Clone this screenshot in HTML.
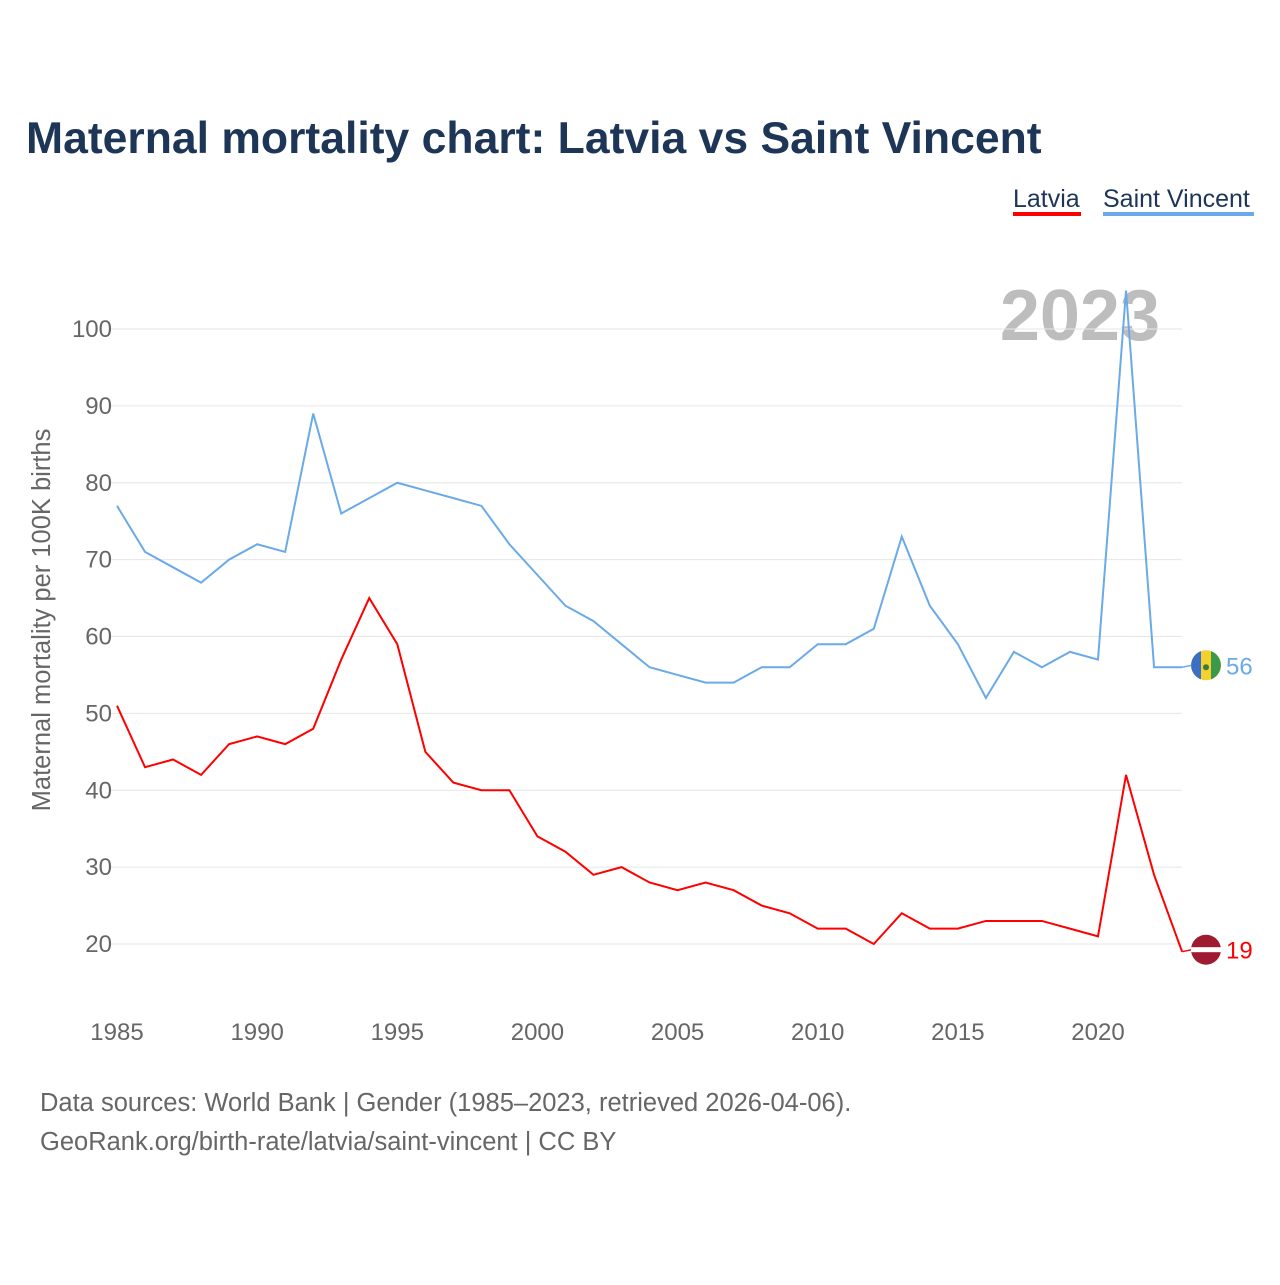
<!DOCTYPE html>
<html><head><meta charset="utf-8"><style>
body{margin:0;background:#fff;font-family:"Liberation Sans",sans-serif}
#wrap{position:relative;width:1280px;height:1280px}
</style></head><body>
<div id="wrap">
<svg id="chart" width="1280" height="1280">
<text x="26" y="153" font-size="44.5" font-weight="bold" fill="#1d3557">Maternal mortality chart: Latvia vs Saint Vincent</text>
<g><text x="1013" y="207" font-size="25" fill="#1d3557">Latvia</text><rect x="1013" y="212" width="68" height="4" fill="#ff0000"/></g>
<g><text x="1103" y="207" font-size="25" fill="#1d3557">Saint Vincent</text><rect x="1103" y="212" width="151" height="4" fill="#6aaae8"/></g>
<text x="1160" y="340" font-size="72" font-weight="bold" fill="#bdbdbd" text-anchor="end">2023</text>
<text transform="translate(50,620) rotate(-90)" font-size="25.5" fill="#666" text-anchor="middle">Maternal mortality per 100K births</text>
<g id="grid"></g><g id="xt"></g><g id="lines"></g>
<text x="40" y="1111" font-size="25.5" fill="#666">Data sources: World Bank | Gender (1985–2023, retrieved 2026-04-06).</text>
<text x="40" y="1150" font-size="25.5" fill="#666">GeoRank.org/birth-rate/latvia/saint-vincent | CC BY</text>
</svg></div>
<script>
const years=[];for(let y=1985;y<=2023;y++)years.push(y);
const latvia=[51,43,44,42,46,47,46,48,57,65,59,45,41,40,40,34,32,29,30,28,27,28,27,25,24,22,22,20,24,22,22,23,23,23,22,21,42,29,19];
const stVincent=[77,71,69,67,70,72,71,89,76,78,80,79,78,77,72,68,64,62,59,56,55,54,54,56,56,59,59,61,73,64,59,52,58,56,58,57,105,56,56];
const yTicks=[20,30,40,50,60,70,80,90,100];
const xTicks=[1985,1990,1995,2000,2005,2010,2015,2020];
const NS="http://www.w3.org/2000/svg";
const X=y=>117+(y-1985)*(1098-117)/35;
const Y=v=>944-(v-20)*(944-329)/80;
function mk(t,a,p){const e=document.createElementNS(NS,t);for(const k in a)e.setAttribute(k,a[k]);p.appendChild(e);return e;}
const g=document.getElementById('grid'),xt=document.getElementById('xt'),L=document.getElementById('lines');
yTicks.forEach(v=>{
 const l=mk('line',{x1:110,x2:1182,y1:Y(v),y2:Y(v),stroke:'#e6e6e6'},g);
 
 
 const t=mk('text',{x:112,y:Y(v)+8,'font-size':24,fill:'#666','text-anchor':'end'},g);t.textContent=v;
 
 
});
xTicks.forEach(v=>{
 const t=mk('text',{x:X(v),y:1040,'font-size':24,fill:'#666','text-anchor':'middle'},xt);t.textContent=v;
 
 
});
function series(data,color,name,flag){
 const p=mk('polyline',{points:data.map((v,i)=>X(years[i])+','+Y(v)).join(' '),fill:'none',stroke:color,'stroke-width':2},L);
 
 
 const last=data[data.length-1],lx=X(years[years.length-1]),y0=Y(last),ly=y0-2;
 mk('line',{x1:lx,x2:1192,y1:y0,y2:ly,stroke:color,'stroke-width':1.5},L);
 const c=mk('g',{},L);
 
 
 flag(c,1206,ly);
 const t=mk('text',{x:1226,y:ly+9,'font-size':24,fill:color},L);t.textContent=last;
 
 
}
series(stVincent,'#6aaae8','saint-vincent',(c,x,y)=>{
 mk('circle',{cx:x,cy:y,r:15,fill:'#f5d130'},c);
 mk('path',{d:`M${x-5},${y-14.1} A15,15 0 0 0 ${x-5},${y+14.1} Z`,fill:'#3b6fc4'},c);
 mk('path',{d:`M${x+5},${y-14.1} A15,15 0 0 1 ${x+5},${y+14.1} Z`,fill:'#3a9a4a'},c);
 mk('circle',{cx:x,cy:y+2,r:3,fill:'#3a7a3a'},c);
});
series(latvia,'#ff0000','latvia',(c,x,y)=>{
 mk('circle',{cx:x,cy:y,r:15,fill:'#9e1b32'},c);
 mk('rect',{x:x-15,y:y-2.5,width:30,height:5,fill:'#fff'},c);
});
</script></body></html>
